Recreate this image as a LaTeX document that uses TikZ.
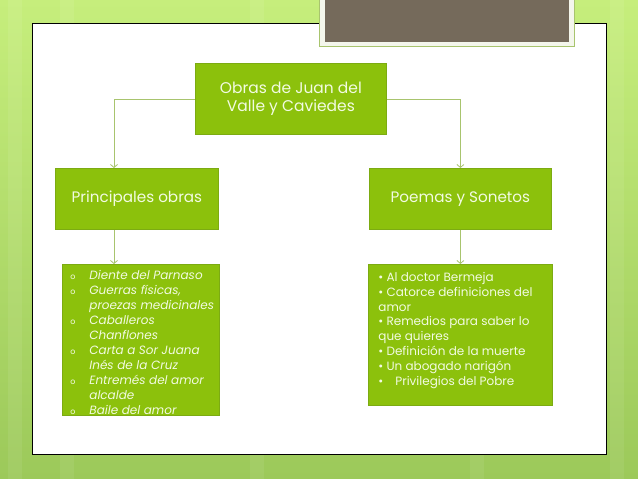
\documentclass[tikz,border=0pt]{standalone}
\usepackage{fontspec}
\setmainfont{Poppins}
\usetikzlibrary{positioning}
\usetikzlibrary{arrows.meta}
\definecolor{slidetop}{HTML}{C6EE7C}
\definecolor{slidebottom}{HTML}{9CC95A}
\definecolor{boxgreen}{HTML}{8CC10C}
\definecolor{boxedge}{HTML}{7CAB12}
\definecolor{boxtext}{HTML}{F2FBE2}
\definecolor{linkgreen}{HTML}{A8C46E}
\definecolor{titlebrown}{HTML}{756A5B}
\definecolor{titlecream}{HTML}{F4F6EC}
\tikzset{
	box/.style={draw=boxedge, fill=boxgreen, text=boxtext, line width=0.8pt, inner sep=0pt, anchor=north west},
	link/.style={draw=linkgreen, line width=0.8pt, -{Straight Barb[length=3pt,width=7pt]}}
}

\begin{document}
\begin{tikzpicture}
			\useasboundingbox (0pt, 0pt) rectangle (638pt, -479pt);
			% slide background
			\shade[top color=slidetop, bottom color=slidebottom] (0pt, 0pt) rectangle (638pt, -479pt);
			\foreach \x in {8,60,250,470,610}
				\fill[white, opacity=0.07] (\x pt, 0pt) rectangle ++(14pt, -479pt);
			\node (panel) at (32pt, -23pt) [draw=black, fill=white, line width=1pt, minimum width=574pt, minimum height=431pt, anchor=north west] {};
			% title frame
			\fill[linkgreen] (319pt, 0pt) rectangle (575pt, -47pt);
			\fill[titlecream] (320pt, 0pt) rectangle (574pt, -46pt);
			\node (title) at (325pt, 0pt) [fill=titlebrown, minimum width=244pt, minimum height=42pt, anchor=north west] {};
			% boxes
			\node (root) at (195pt, -63pt) [box, minimum width=191pt, minimum height=71pt, align=center, font=\fontsize{15.5}{18}\selectfont] {Obras de Juan del\\Valle y Caviedes};
			\node (obras) at (55pt, -168pt) [box, minimum width=163pt, minimum height=61pt, font=\fontsize{15.2}{18}\selectfont] {Principales obras};
			\node (poemas) at (369pt, -168pt) [box, minimum width=182pt, minimum height=61pt, font=\fontsize{15.2}{18}\selectfont] {Poemas y Sonetos};
			\node (listobras) at (62pt, -264pt) [box, minimum width=157pt, minimum height=151pt, font=\fontsize{12}{15}\selectfont] {\parbox[c][141pt][t]{149pt}{%
				\begin{tabular}{@{\hspace{4pt}}p{19pt}@{}l@{}}
					\fontsize{8}{8}\selectfont o & \textit{Diente del Parnaso}\\
					\fontsize{8}{8}\selectfont o & \textit{Guerras físicas,}\\
					& \textit{proezas medicinales}\\
					\fontsize{8}{8}\selectfont o & \textit{Caballeros}\\
					& \textit{Chanflones}\\
					\fontsize{8}{8}\selectfont o & \textit{Carta a Sor Juana}\\
					& \textit{Inés de la Cruz}\\
					\fontsize{8}{8}\selectfont o & \textit{Entremés del amor}\\
					& \textit{alcalde}\\
					\fontsize{8}{8}\selectfont o & \textit{Baile del amor}
				\end{tabular}}};
			\node (listpoemas) at (368pt, -264pt) [box, minimum width=184pt, minimum height=141pt, font=\fontsize{12}{14.8}\selectfont] {\parbox[c][125pt][t]{164pt}{%
				• Al doctor Bermeja\\
				• Catorce definiciones del\\
				amor\\
				• Remedios para saber lo\\
				que quieres\\
				• Definición de la muerte\\
				• Un abogado narigón\\
				•\hspace{12pt}Privilegios del Pobre}};
			% connectors
			\coordinate (obrastop) at (114pt, -168pt);
			\draw[link] (root.west) -| (obrastop);
			\draw[link] (root.east) -| (poemas.north);
			\draw[link] (obras.south -| obrastop) -- (listobras.north -| obrastop);
			\draw[link] (poemas.south) -- (listpoemas.north -| poemas.south);
		\end{tikzpicture}
\end{document}
